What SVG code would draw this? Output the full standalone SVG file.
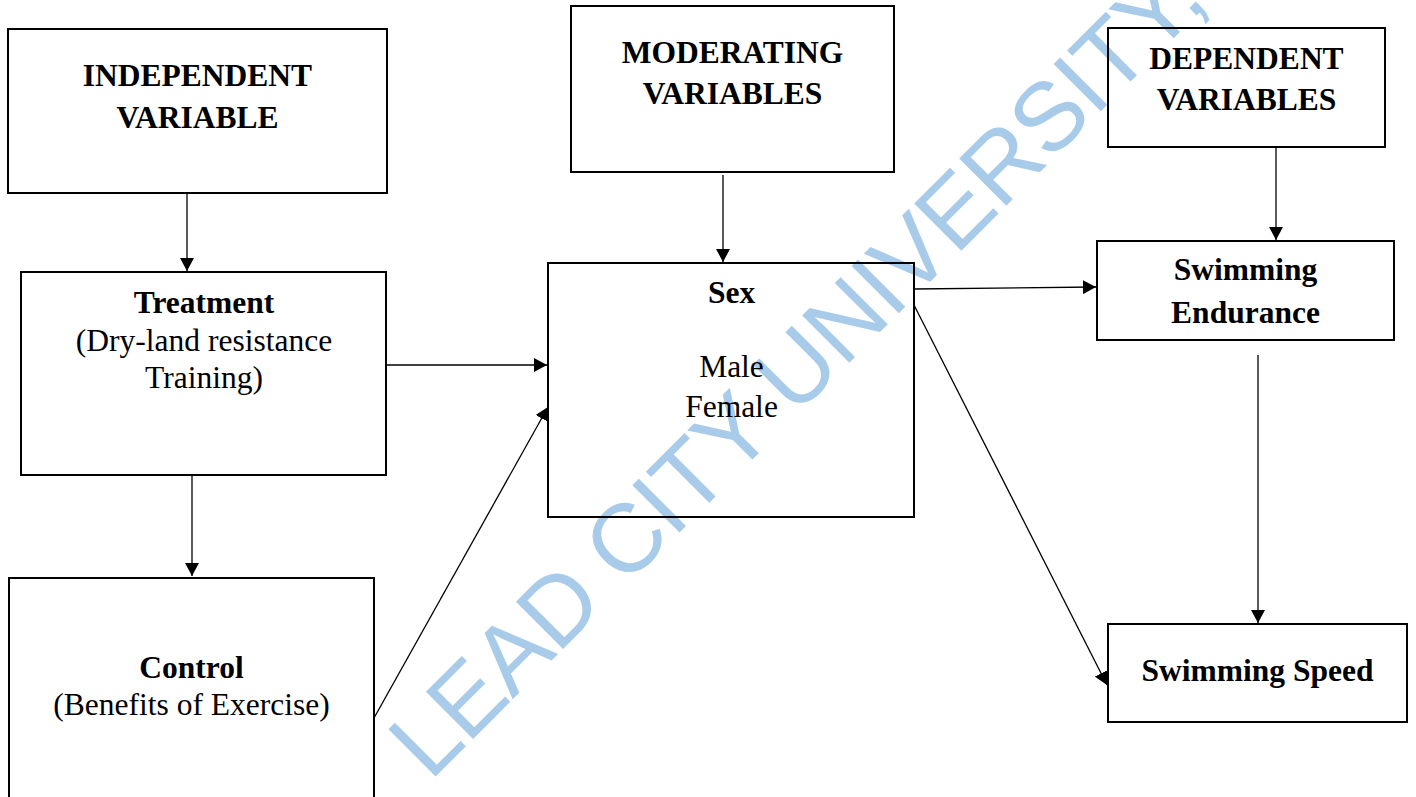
<svg xmlns="http://www.w3.org/2000/svg" width="1416" height="797" viewBox="0 0 1416 797">
<style>
.box{fill:none;stroke:#000;stroke-width:2}
.hd{font-family:"Liberation Serif","Times New Roman",serif;font-weight:bold;font-size:31.5px;fill:#000;text-anchor:middle}
.tx{font-family:"Liberation Serif","Times New Roman",serif;font-size:31.5px;fill:#000;text-anchor:middle}
.cn{stroke:#000;stroke-width:1.3;fill:none;marker-end:url(#ah)}
.wm{font-family:"Liberation Sans",Arial,sans-serif;font-size:97px;fill:#a9cbea}
</style>
<defs>
<marker id="ah" markerUnits="userSpaceOnUse" markerWidth="14" markerHeight="14" refX="13" refY="7" orient="auto">
<path d="M0,0 L13,7 L0,14 Z" fill="#000"/>
</marker>
</defs>
<rect x="0" y="0" width="1416" height="797" fill="#fff"/>
<g id="watermark">
<text class="wm" transform="translate(430,782) rotate(-45)" textLength="1102" lengthAdjust="spacing">LEAD CITY UNIVERSITY,</text>
</g>
<g id="independent">
<rect class="box" x="8" y="29" width="379" height="164"/>
<text class="hd" x="197.5" y="86">INDEPENDENT</text>
<text class="hd" x="197.5" y="128">VARIABLE</text>
</g>
<g id="treatment">
<rect class="box" x="21" y="272" width="365" height="203"/>
<text class="hd" x="204" y="313">Treatment</text>
<text class="tx" x="204" y="351">(Dry-land resistance</text>
<text class="tx" x="204" y="388">Training)</text>
</g>
<g id="control">
<rect class="box" x="9" y="578" width="365" height="230"/>
<text class="hd" x="191.5" y="678">Control</text>
<text class="tx" x="191.5" y="715">(Benefits of Exercise)</text>
</g>
<g id="moderating">
<rect class="box" x="571" y="6" width="323" height="166"/>
<text class="hd" x="732.5" y="63">MODERATING</text>
<text class="hd" x="732.5" y="104">VARIABLES</text>
</g>
<g id="sex">
<rect class="box" x="548" y="263" width="366" height="254"/>
<text class="hd" x="731.5" y="303">Sex</text>
<text class="tx" x="731.5" y="377">Male</text>
<text class="tx" x="731.5" y="417">Female</text>
</g>
<g id="dependent">
<rect class="box" x="1108" y="28" width="277" height="119"/>
<text class="hd" x="1246.5" y="69">DEPENDENT</text>
<text class="hd" x="1246.5" y="110">VARIABLES</text>
</g>
<g id="endurance">
<rect class="box" x="1097" y="241" width="297" height="99"/>
<text class="hd" x="1245.5" y="280">Swimming</text>
<text class="hd" x="1245.5" y="323">Endurance</text>
</g>
<g id="speed">
<rect class="box" x="1108" y="624" width="299" height="98"/>
<text class="hd" x="1257.5" y="681">Swimming Speed</text>
</g>
<g id="connectors">
<line class="cn" x1="187" y1="193" x2="187" y2="271"/>
<line class="cn" x1="192" y1="475" x2="192" y2="576"/>
<line class="cn" x1="387" y1="365" x2="547" y2="365"/>
<line class="cn" x1="374" y1="718" x2="548" y2="407"/>
<line class="cn" x1="723" y1="175" x2="723" y2="262"/>
<line class="cn" x1="914" y1="289" x2="1096" y2="287"/>
<line class="cn" x1="914" y1="305" x2="1107" y2="685"/>
<line class="cn" x1="1276" y1="147" x2="1276" y2="240"/>
<line class="cn" x1="1258" y1="355" x2="1258" y2="623"/>
</g>
</svg>
